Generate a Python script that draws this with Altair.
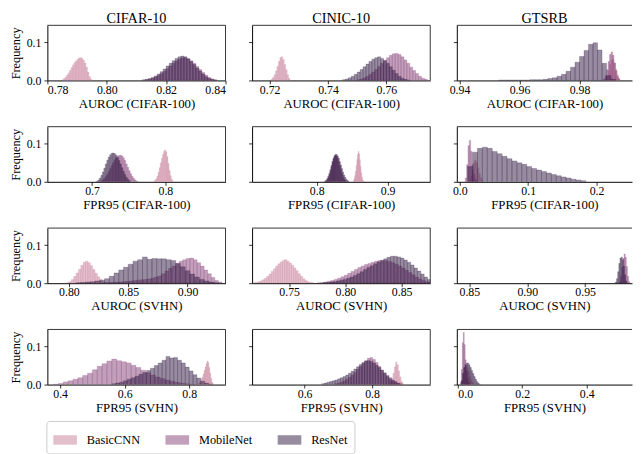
import altair as alt
import pandas as pd

FONT = "Liberation Serif"
MODELS = ["BasicCNN", "MobileNet", "ResNet"]
COLORS = ["#c77f99", "#853f77", "#2f1741"]
DATASETS = ["CIFAR-10", "CINIC-10", "GTSRB"]
METRICS = ["AUROC (CIFAR-100)", "FPR95 (CIFAR-100)", "AUROC (SVHN)", "FPR95 (SVHN)"]
FORMATS = [".2f", ".1f", ".2f", ".1f"]

X_DOMAINS = [
    [[0.78, 0.84], [0.714, 0.775], [0.9391, 0.9975]],
    [[0.639, 0.882], [0.709, 0.960], [-0.0043, 0.2518]],
    [[0.7818, 0.932], [0.717, 0.8754], [0.8392, 0.9904]],
    [[0.3604, 0.9126], [0.444, 0.9727], [-0.003, 0.5405]],
]
X_TICKS = [
    [[0.78, 0.80, 0.82, 0.84], [0.72, 0.74, 0.76], [0.94, 0.96, 0.98]],
    [[0.7, 0.8], [0.8, 0.9], [0.0, 0.1, 0.2]],
    [[0.80, 0.85, 0.90], [0.75, 0.80, 0.85], [0.85, 0.90, 0.95]],
    [[0.4, 0.6, 0.8], [0.6, 0.8], [0.0, 0.2, 0.4]],
]
Y_MAX = 0.145
Y_TICKS = [0.0, 0.1]

# Histograms: (first bin edge, bin width, frequencies)
# Row 1: AUROC (CIFAR-100)
C10_AUC_C100_BASIC = (0.785, 0.0005, [0.002, 0.005, 0.009, 0.014, 0.020, 0.027, 0.034, 0.041, 0.047, 0.052, 0.056, 0.059, 0.060, 0.058, 0.053, 0.046, 0.035, 0.022, 0.010, 0.003])
C10_AUC_C100_MOBILE = (0.813, 0.001, [0.002, 0.003, 0.006, 0.009, 0.013, 0.018, 0.024, 0.031, 0.038, 0.045, 0.051, 0.056, 0.059, 0.060, 0.057, 0.052, 0.045, 0.037, 0.029, 0.021, 0.014, 0.008, 0.004, 0.002])
C10_AUC_C100_RESNET = (0.812, 0.001, [0.002, 0.003, 0.005, 0.008, 0.012, 0.017, 0.023, 0.030, 0.038, 0.045, 0.052, 0.058, 0.062, 0.064, 0.062, 0.057, 0.050, 0.042, 0.033, 0.025, 0.017, 0.010, 0.006, 0.003, 0.001])

CN_AUC_C100_BASIC = (0.7205, 0.0005, [0.003, 0.008, 0.015, 0.025, 0.037, 0.050, 0.060, 0.062, 0.055, 0.042, 0.028, 0.015, 0.005])
CN_AUC_C100_MOBILE = (0.750, 0.001, [0.002, 0.004, 0.007, 0.011, 0.016, 0.022, 0.029, 0.037, 0.045, 0.053, 0.060, 0.066, 0.070, 0.071, 0.068, 0.062, 0.054, 0.045, 0.035, 0.026, 0.018, 0.011, 0.006, 0.003])
CN_AUC_C100_RESNET = (0.745, 0.001, [0.002, 0.004, 0.007, 0.011, 0.016, 0.022, 0.029, 0.036, 0.043, 0.050, 0.056, 0.060, 0.062, 0.058, 0.052, 0.045, 0.036, 0.027, 0.018, 0.011, 0.006, 0.003, 0.001])

GT_AUC_C100_BASIC = (0.9885, 0.0005, [0.003, 0.010, 0.025, 0.042, 0.053, 0.055, 0.045, 0.030, 0.015, 0.005])
GT_AUC_C100_MOBILE = (0.988, 0.0005, [0.004, 0.012, 0.028, 0.050, 0.068, 0.075, 0.066, 0.046, 0.025, 0.010, 0.003])
GT_AUC_C100_RESNET = (0.953, 0.0015, [0.001, 0.001, 0.001, 0.001, 0.001, 0.001, 0.001, 0.002, 0.002, 0.002, 0.003, 0.005, 0.007, 0.011, 0.016, 0.024, 0.035, 0.048, 0.063, 0.079, 0.095, 0.099, 0.080, 0.045, 0.013, 0.003])

# Row 2: FPR95 (CIFAR-100)
C10_FPR_C100_BASIC = (0.784, 0.0015, [0.002, 0.004, 0.008, 0.015, 0.025, 0.037, 0.050, 0.062, 0.072, 0.080, 0.084, 0.079, 0.066, 0.048, 0.030, 0.016, 0.007, 0.002])
C10_FPR_C100_MOBILE = (0.712, 0.002, [0.002, 0.005, 0.009, 0.014, 0.020, 0.027, 0.035, 0.043, 0.051, 0.058, 0.063, 0.067, 0.069, 0.070, 0.068, 0.063, 0.056, 0.047, 0.038, 0.029, 0.021, 0.014, 0.009, 0.005, 0.002])
C10_FPR_C100_RESNET = (0.706, 0.002, [0.002, 0.005, 0.010, 0.017, 0.026, 0.036, 0.047, 0.057, 0.065, 0.071, 0.075, 0.076, 0.074, 0.070, 0.064, 0.056, 0.047, 0.037, 0.028, 0.019, 0.012, 0.007, 0.003])

CN_FPR_C100_BASIC = (0.8515, 0.001, [0.003, 0.008, 0.016, 0.028, 0.043, 0.059, 0.072, 0.080, 0.074, 0.058, 0.040, 0.024, 0.012, 0.005, 0.002])
CN_FPR_C100_MOBILE = (0.8125, 0.0015, [0.002, 0.005, 0.010, 0.017, 0.027, 0.038, 0.050, 0.060, 0.067, 0.070, 0.068, 0.062, 0.053, 0.042, 0.031, 0.021, 0.013, 0.007, 0.003])
CN_FPR_C100_RESNET = (0.811, 0.0015, [0.002, 0.004, 0.008, 0.014, 0.022, 0.032, 0.043, 0.054, 0.063, 0.069, 0.072, 0.072, 0.068, 0.062, 0.053, 0.044, 0.035, 0.026, 0.018, 0.012, 0.007, 0.004, 0.002])

GT_FPR_C100_BASIC = (0.014, 0.002, [0.005, 0.015, 0.032, 0.050, 0.057, 0.050, 0.036, 0.022, 0.011, 0.004])
GT_FPR_C100_MOBILE = (0.008, 0.002, [0.010, 0.045, 0.095, 0.109, 0.080, 0.045, 0.020, 0.007, 0.002])
GT_FPR_C100_RESNET = (0.0115, 0.0072, [0.040, 0.078, 0.088, 0.091, 0.088, 0.080, 0.074, 0.067, 0.061, 0.055, 0.050, 0.046, 0.040, 0.035, 0.031, 0.027, 0.023, 0.019, 0.016, 0.013, 0.010, 0.007, 0.005, 0.003])

# Row 3: AUROC (SVHN)
C10_AUC_SVHN_BASIC = (0.798, 0.002, [0.001, 0.004, 0.010, 0.018, 0.027, 0.037, 0.047, 0.055, 0.058, 0.054, 0.046, 0.036, 0.026, 0.017, 0.010, 0.004, 0.001])
C10_AUC_SVHN_MOBILE = (0.830, 0.003, [0.001, 0.002, 0.002, 0.003, 0.003, 0.004, 0.005, 0.006, 0.007, 0.008, 0.009, 0.010, 0.011, 0.013, 0.016, 0.019, 0.025, 0.032, 0.039, 0.045, 0.052, 0.058, 0.062, 0.065, 0.066, 0.062, 0.054, 0.045, 0.035, 0.025, 0.015, 0.007, 0.003])
C10_AUC_SVHN_RESNET = (0.806, 0.004, [0.001, 0.002, 0.003, 0.004, 0.006, 0.008, 0.012, 0.018, 0.027, 0.035, 0.042, 0.050, 0.058, 0.062, 0.069, 0.063, 0.065, 0.064, 0.064, 0.062, 0.060, 0.052, 0.043, 0.033, 0.024, 0.016, 0.010, 0.006, 0.003, 0.001])

CN_AUC_SVHN_BASIC = (0.718, 0.002, [0.001, 0.002, 0.004, 0.006, 0.009, 0.013, 0.018, 0.024, 0.031, 0.038, 0.045, 0.051, 0.056, 0.060, 0.062, 0.058, 0.053, 0.047, 0.040, 0.033, 0.025, 0.018, 0.012, 0.007, 0.004, 0.002, 0.001])
CN_AUC_SVHN_MOBILE = (0.775, 0.003, [0.001, 0.002, 0.003, 0.005, 0.007, 0.010, 0.013, 0.017, 0.021, 0.026, 0.031, 0.036, 0.041, 0.045, 0.049, 0.052, 0.055, 0.058, 0.060, 0.060, 0.059, 0.057, 0.054, 0.050, 0.045, 0.040, 0.034, 0.028, 0.022, 0.016, 0.011, 0.007, 0.004, 0.002])
CN_AUC_SVHN_RESNET = (0.780, 0.003, [0.001, 0.002, 0.003, 0.004, 0.006, 0.008, 0.010, 0.013, 0.016, 0.020, 0.025, 0.030, 0.036, 0.041, 0.046, 0.051, 0.056, 0.060, 0.064, 0.068, 0.071, 0.071, 0.069, 0.066, 0.061, 0.055, 0.048, 0.040, 0.032, 0.024, 0.016, 0.010])

GT_AUC_SVHN_MOBILE = (0.9795, 0.001, [0.004, 0.018, 0.042, 0.065, 0.077, 0.068, 0.044, 0.018, 0.004])
GT_AUC_SVHN_RESNET = (0.976, 0.001, [0.003, 0.012, 0.030, 0.052, 0.066, 0.069, 0.062, 0.045, 0.022, 0.006])

# Row 4: FPR95 (SVHN)
C10_FPR_SVHN_BASIC = (0.828, 0.003, [0.002, 0.005, 0.009, 0.014, 0.020, 0.028, 0.037, 0.046, 0.055, 0.062, 0.058, 0.045, 0.030, 0.016, 0.006, 0.002])
C10_FPR_SVHN_MOBILE = (0.380, 0.015, [0.001, 0.003, 0.007, 0.010, 0.014, 0.018, 0.024, 0.030, 0.039, 0.048, 0.055, 0.062, 0.067, 0.063, 0.060, 0.057, 0.051, 0.045, 0.038, 0.031, 0.025, 0.020, 0.016, 0.012, 0.009, 0.006, 0.004, 0.002, 0.001])
C10_FPR_SVHN_RESNET = (0.560, 0.012, [0.002, 0.004, 0.006, 0.010, 0.014, 0.018, 0.022, 0.027, 0.032, 0.037, 0.043, 0.050, 0.057, 0.064, 0.074, 0.070, 0.071, 0.064, 0.057, 0.046, 0.036, 0.026, 0.017, 0.009, 0.004, 0.001])

CN_FPR_SVHN_BASIC = (0.850, 0.004, [0.003, 0.008, 0.016, 0.030, 0.046, 0.059, 0.052, 0.036, 0.020, 0.008, 0.002])
CN_FPR_SVHN_MOBILE = (0.690, 0.008, [0.002, 0.004, 0.007, 0.010, 0.014, 0.019, 0.025, 0.032, 0.040, 0.048, 0.056, 0.063, 0.069, 0.071, 0.066, 0.058, 0.048, 0.038, 0.029, 0.021, 0.014, 0.009, 0.005, 0.002])
CN_FPR_SVHN_RESNET = (0.650, 0.008, [0.002, 0.004, 0.006, 0.008, 0.010, 0.012, 0.015, 0.018, 0.021, 0.025, 0.030, 0.035, 0.041, 0.047, 0.053, 0.058, 0.062, 0.063, 0.061, 0.057, 0.051, 0.045, 0.038, 0.031, 0.024, 0.018, 0.012, 0.008, 0.004, 0.002])

GT_FPR_SVHN_BASIC = (0.012, 0.004, [0.010, 0.030, 0.045, 0.050, 0.045, 0.035, 0.022, 0.012, 0.005])
GT_FPR_SVHN_MOBILE = (0.008, 0.003, [0.005, 0.040, 0.110, 0.137, 0.105, 0.065, 0.035, 0.017, 0.007, 0.003])
GT_FPR_SVHN_RESNET = (0.010, 0.004, [0.010, 0.030, 0.045, 0.052, 0.056, 0.057, 0.052, 0.045, 0.037, 0.029, 0.021, 0.014, 0.008, 0.004, 0.001])

HISTS = [
    [[C10_AUC_C100_BASIC, C10_AUC_C100_MOBILE, C10_AUC_C100_RESNET],
     [CN_AUC_C100_BASIC, CN_AUC_C100_MOBILE, CN_AUC_C100_RESNET],
     [GT_AUC_C100_BASIC, GT_AUC_C100_MOBILE, GT_AUC_C100_RESNET]],
    [[C10_FPR_C100_BASIC, C10_FPR_C100_MOBILE, C10_FPR_C100_RESNET],
     [CN_FPR_C100_BASIC, CN_FPR_C100_MOBILE, CN_FPR_C100_RESNET],
     [GT_FPR_C100_BASIC, GT_FPR_C100_MOBILE, GT_FPR_C100_RESNET]],
    [[C10_AUC_SVHN_BASIC, C10_AUC_SVHN_MOBILE, C10_AUC_SVHN_RESNET],
     [CN_AUC_SVHN_BASIC, CN_AUC_SVHN_MOBILE, CN_AUC_SVHN_RESNET],
     [None, GT_AUC_SVHN_MOBILE, GT_AUC_SVHN_RESNET]],
    [[C10_FPR_SVHN_BASIC, C10_FPR_SVHN_MOBILE, C10_FPR_SVHN_RESNET],
     [CN_FPR_SVHN_BASIC, CN_FPR_SVHN_MOBILE, CN_FPR_SVHN_RESNET],
     [GT_FPR_SVHN_BASIC, GT_FPR_SVHN_MOBILE, GT_FPR_SVHN_RESNET]],
]

W = [181, 181, 178]
H = 56

cscale = alt.Scale(domain=MODELS, range=COLORS)
LEGEND = alt.Legend(
    title=None, orient="none", legendX=-1, legendY=402, direction="horizontal",
    symbolType="M-1,-0.4L1,-0.4L1,0.4L-1,0.4Z", symbolSize=576,
    symbolOpacity=0.5, symbolStrokeWidth=0, labelFont=FONT, labelFontSize=12.5,
    labelColor="black", columnPadding=25, labelOffset=10, padding=7,
    strokeColor="#cccccc", cornerRadius=3, fillColor="white",
)


def panel(r, c):
    rows = []
    for m, h in zip(MODELS, HISTS[r][c]):
        if h is None:
            continue
        start, w, freqs = h
        for i, f in enumerate(freqs):
            rows.append({"model": m, "lo": start + i * w, "hi": start + (i + 1) * w, "freq": f})
    df = pd.DataFrame(rows)
    yaxis = alt.Axis(values=Y_TICKS, format=".1f", title="Frequency" if c == 0 else None,
                     labels=(c == 0), labelPadding=3, titlePadding=4, titleFontSize=12.5)
    bars = alt.Chart(df).mark_rect(clip=True, fillOpacity=0.5, strokeWidth=0.5, strokeOpacity=0.45).encode(
        x=alt.X("lo:Q", scale=alt.Scale(domain=X_DOMAINS[r][c], nice=False, zero=False),
                axis=alt.Axis(values=X_TICKS[r][c], format=FORMATS[r], title=METRICS[r],
                              labelPadding=0.5, titlePadding=2, titleFontSize=13)),
        x2="hi:Q",
        y=alt.Y("freq:Q", scale=alt.Scale(domain=[0, Y_MAX], nice=False), axis=yaxis),
        y2=alt.datum(0),
        color=alt.Color("model:N", scale=cscale, legend=LEGEND),
        stroke=alt.Stroke("model:N", scale=cscale, legend=None),
    )
    frame_df = pd.DataFrame({"k": [0]})
    top = alt.Chart(frame_df).mark_rule(color="black", strokeWidth=0.8).encode(
        x=alt.value(0), x2=alt.value(W[c]), y=alt.value(0))
    layers = [bars, top]
    if c < 2:
        right = alt.Chart(frame_df).mark_rule(color="black", strokeWidth=0.8).encode(
            x=alt.value(W[c]), y=alt.value(0), y2=alt.value(H))
        layers.append(right)
    ch = alt.layer(*layers).properties(width=W[c], height=H)
    if r == 0:
        ch = ch.properties(title=alt.TitleParams(DATASETS[c], font=FONT, fontSize=14.5,
                                                 fontWeight="normal", color="black", offset=-2))
    return ch


panels = [panel(r, c) for r in range(4) for c in range(3)]

chart = alt.concat(
    *panels, columns=3, spacing={"row": 47, "column": 27}, bounds="flush"
).resolve_scale(
    x="independent", y="independent"
).properties(
    padding={"left": 1, "top": 0, "right": 0, "bottom": 0}
).configure_view(stroke=None).configure_axis(
    domainColor="black", domainWidth=1, tickColor="black", tickWidth=0.8, tickSize=3.5,
    labelFont=FONT, labelFontSize=12, labelColor="black",
    titleFont=FONT, titleFontSize=12, titleFontWeight="normal", titleColor="black", grid=False,
)

chart.save("out.html", embed_options={"renderer": "svg", "actions": False})
